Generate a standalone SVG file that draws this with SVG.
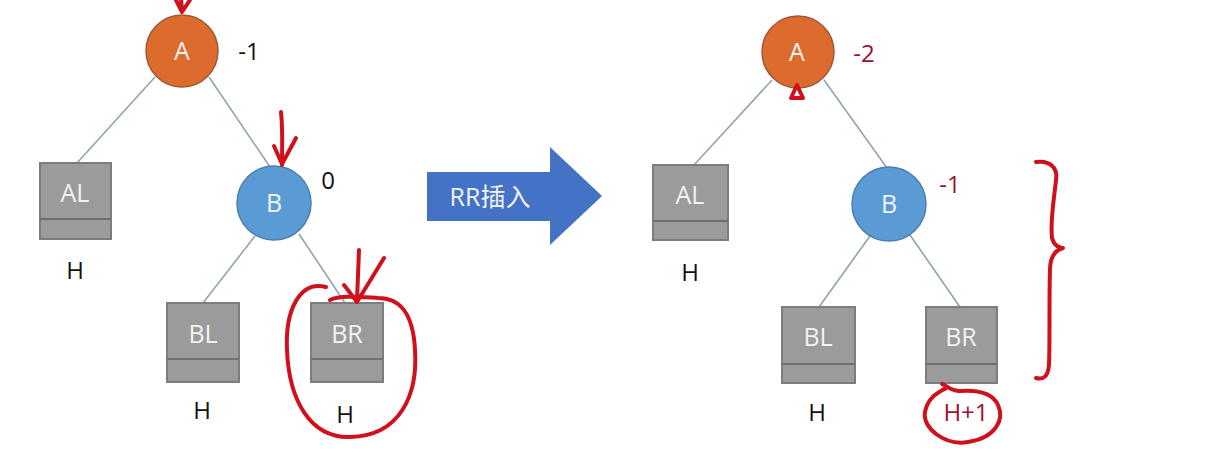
<svg xmlns="http://www.w3.org/2000/svg" width="1219" height="457" viewBox="0 0 1219 457">
<style>
.edge{stroke:#8fa3b3;stroke-width:1.6;fill:none}
.cA{fill:#DE6B2E;stroke:#9a5a3a;stroke-width:1.5}
.cB{fill:#5B9BD5;stroke:#4a7fae;stroke-width:1.5}
.box{fill:#9b9b9b;stroke:#7d7d7d;stroke-width:2}
.div{stroke:#6f6f6f;stroke-width:2}
.nt{font-family:"Open Sans","Liberation Sans",sans-serif;font-size:25px;fill:#f2f2f2;text-anchor:middle}
.lab{font-family:"Open Sans","Liberation Sans",sans-serif;font-size:24px;fill:#111;text-anchor:middle}
.red{font-family:"Open Sans","Liberation Sans",sans-serif;font-size:24px;fill:#9e1030;text-anchor:middle}
.ink{stroke:#d0101c;stroke-width:4;fill:none;stroke-linecap:round;stroke-linejoin:round}
</style>
<rect width="1219" height="457" fill="#ffffff"/>
<g id="connectors">
<line class="edge" x1="155" y1="77" x2="77" y2="163"/>
<line class="edge" x1="209" y1="77" x2="270" y2="167"/>
<line class="edge" x1="255" y1="236" x2="203" y2="303"/>
<line class="edge" x1="299" y1="234" x2="345" y2="303"/>
<line class="edge" x1="772" y1="80" x2="694" y2="165"/>
<line class="edge" x1="824" y1="80" x2="887" y2="168"/>
<line class="edge" x1="870" y1="236" x2="819" y2="307"/>
<line class="edge" x1="910" y1="235" x2="960" y2="307"/>
</g>
<g id="L_A"><circle class="cA" cx="182" cy="51" r="36"/><text class="nt" x="182" y="60">A</text><text class="lab" x="249" y="60">-1</text></g>
<g id="L_AL"><rect class="box" x="40" y="163" width="71" height="76"/><line class="div" x1="40" y1="219" x2="111" y2="219"/><text class="nt" x="75" y="202">AL</text><text class="lab" x="75" y="279">H</text></g>
<g id="L_B"><circle class="cB" cx="274" cy="203" r="37"/><text class="nt" x="274" y="212">B</text><text class="lab" x="328" y="189">0</text></g>
<g id="L_BL"><rect class="box" x="167" y="303" width="72" height="79"/><line class="div" x1="167" y1="359" x2="239" y2="359"/><text class="nt" x="203" y="343">BL</text><text class="lab" x="202" y="419">H</text></g>
<g id="L_BR"><rect class="box" x="311" y="303" width="72" height="79"/><line class="div" x1="311" y1="359" x2="383" y2="359"/><text class="nt" x="347" y="343">BR</text><text class="lab" x="345" y="423">H</text></g>
<g id="arrow"><polygon points="427,172 550,172 550,147 602,196 550,245 550,221 427,221" fill="#4472C4"/><text x="490" y="206" font-family="Open Sans,Liberation Sans,Noto Sans CJK SC,sans-serif" font-size="25" fill="#f4f4f4" text-anchor="middle">RR插入</text></g>
<g id="R_A"><circle class="cA" cx="798" cy="52" r="36"/><text class="nt" x="797" y="61">A</text><text class="red" x="864" y="62">-2</text></g>
<g id="R_AL"><rect class="box" x="653" y="165" width="75" height="75"/><line class="div" x1="653" y1="221" x2="728" y2="221"/><text class="nt" x="690" y="204">AL</text><text class="lab" x="690" y="281">H</text></g>
<g id="R_B"><circle class="cB" cx="889" cy="204" r="37"/><text class="nt" x="889" y="213">B</text><text class="red" x="950" y="193">-1</text></g>
<g id="R_BL"><rect class="box" x="782" y="307" width="73" height="76"/><line class="div" x1="782" y1="364" x2="855" y2="364"/><text class="nt" x="818" y="346">BL</text><text class="lab" x="817" y="421">H</text></g>
<g id="R_BR"><rect class="box" x="926" y="307" width="71" height="76"/><line class="div" x1="926" y1="364" x2="997" y2="364"/><text class="nt" x="961" y="346">BR</text><text class="red" x="966" y="421">H+1</text></g>
<g id="annotations">
<path class="ink" d="M176,0 L182,12 L190,0 M181,-2 L182,11"/>
<path class="ink" d="M281,112 C283,130 282,148 282,165 M274,146 L282,164 L296,138"/>
<path class="ink" d="M359,250 L357,300 M344,285 L357,302 L384,258"/>
<path class="ink" d="M326,287 C300,280 285,310 287,350 C289,400 310,438 350,437 C400,436 418,395 415,350 C413,310 398,298 378,298 C360,297 340,295 330,300"/>
<path class="ink" d="M797,85 L791,98 L803,98 Z"/>
<path class="ink" d="M946,388 C940,392 928,396 925,412 C922,428 945,446 968,442 C995,438 1005,420 998,405 C992,392 975,390 960,391 C950,391 948,386 942,384"/>
<path class="ink" d="M1036,162 C1050,160 1058,168 1056,180 C1054,200 1050,220 1052,238 C1054,246 1060,248 1063,248 C1056,250 1050,256 1050,270 C1049,300 1050,340 1049,365 C1048,376 1044,380 1036,378"/>
</g>
</svg>
